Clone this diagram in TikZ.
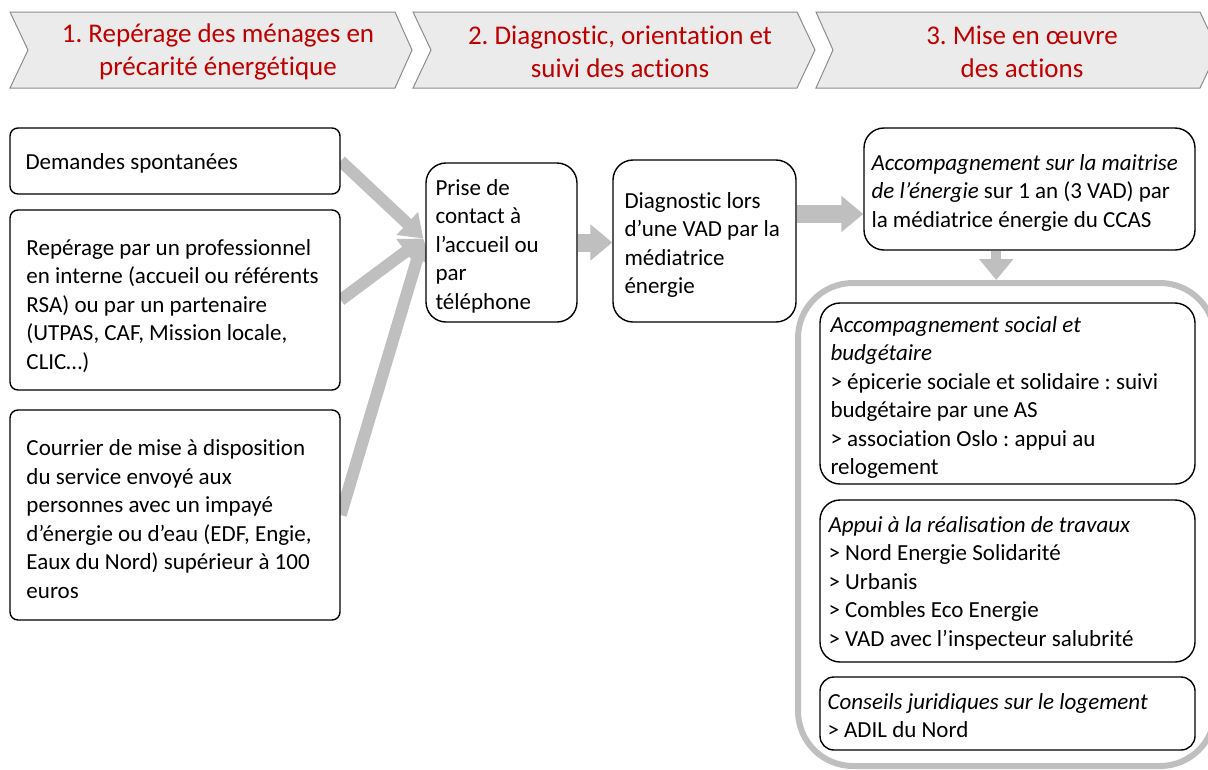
\documentclass[tikz,border=0pt]{standalone}
\usepackage{fontspec}
\setmainfont{Carlito}[Ligatures={NoCommon}]
\frenchspacing
\usetikzlibrary{arrows.meta,fit,calc,backgrounds}
\definecolor{hred}{HTML}{C00000}
\definecolor{agrey}{HTML}{BFBFBF}
\definecolor{chfill}{HTML}{EBEBEB}
\definecolor{chline}{HTML}{8C8C8C}
\begin{document}
\begin{tikzpicture}[x=1pt,y=-1pt,
  box/.style={draw=black, line width=1.4pt, fill=white, inner sep=0pt, rounded corners=#1},
  box/.default=8pt,
  txt/.style={anchor=west, align=left, inner sep=0pt, font=\fontsize{23}{28.5}\selectfont},
  head/.style={align=center, inner sep=0pt, text=hred, font=\fontsize{27}{33.5}\selectfont},
  chev/.style={fill=chfill, draw=chline, line width=1pt},
  darrow/.style={draw=agrey, line width=12pt, -{Triangle[width=30pt,length=22pt]}},
  harrow/.style={draw=agrey, line width=18pt, -{Triangle[width=35pt,length=22pt]}},
  varrow/.style={draw=agrey, line width=10pt, -{Triangle[width=33pt,length=21pt]}},
]
\useasboundingbox (0,0) rectangle (1208,769);
\begin{scope}
\clip (0,0) rectangle (1208,769);
% chevrons
\draw[chev] (10,12) -- (395,12) -- (412,50) -- (395,88) -- (10,88) -- (28,50) -- cycle;
\draw[chev] (413,12) -- (797,12) -- (815,50) -- (797,88) -- (413,88) -- (431,50) -- cycle;
\draw[chev] (816,12) -- (1200,12) -- (1218,50) -- (1200,88) -- (816,88) -- (833,50) -- cycle;
\node[head] (h1) at (218,52) {1. Repérage des ménages en\\précarité énergétique};
\node[head] (h2) at (620,52) {2. Diagnostic, orientation et\\suivi des actions};
\node[head] (h3) at (1022,52) {3. Mise en œuvre\\des actions};
% big grey frame
\node[draw=agrey, line width=6pt, rounded corners=55pt, inner sep=0pt, fit={(798,283) (1215,766)}] (G) {};
\end{scope}
% boxes
\node[box, fit={(10,128) (340,194)}] (A) {};
\node[box, fit={(10,210) (340,390)}] (B) {};
\node[box, fit={(10,410) (340,620)}] (C) {};
\node[box=20pt, fit={(426,163) (577,322)}] (P) {};
\node[box=20pt, fit={(613,160) (796,322)}] (D) {};
\node[box=20pt, fit={(864,128) (1195,250)}] (Acc) {};
\node[box=20pt, fit={(820,303) (1195,484)}] (S) {};
\node[box=20pt, fit={(820,500) (1195,662)}] (Ap) {};
\node[box=14pt, fit={(820,677) (1195,750)}] (Co) {};
% texts
\node[txt] (tA) at ([xshift=16pt,yshift=-2.5pt]A.west) {Demandes spontanées};
\node[txt] (tB) at ([xshift=17pt,yshift=-6pt]B.west) {Repérage par un professionnel\\en interne (accueil ou référents\\RSA) ou par un partenaire\\(UTPAS, CAF, Mission locale,\\CLIC…)};
\node[txt] (tC) at ([xshift=17pt,yshift=-4pt]C.west) {Courrier de mise à disposition\\du service envoyé aux\\personnes avec un impayé\\d’énergie ou d’eau (EDF, Engie,\\Eaux du Nord) supérieur à 100\\euros};
\node[txt] (tP) at ([xshift=10pt,yshift=-3.5pt]P.west) {Prise de\\contact à\\l’accueil ou\\par\\téléphone};
\node[txt] (tD) at ([xshift=12pt,yshift=-4pt]D.west) {Diagnostic lors\\d’une VAD par la\\médiatrice\\énergie};
\node[txt] (tAcc) at ([xshift=8pt,yshift=-3.5pt]Acc.west) {\textit{Accompagnement sur la maitrise}\\\textit{de l’énergie} sur 1 an (3 VAD) par\\la médiatrice énergie du CCAS};
\node[txt] (tS) at ([xshift=11pt,yshift=-4pt]S.west) {\textit{Accompagnement social et}\\\textit{budgétaire}\\> épicerie sociale et solidaire : suivi\\budgétaire par une AS\\> association Oslo : appui au\\relogement};
\node[txt] (tAp) at ([xshift=9pt,yshift=-2pt]Ap.west) {\textit{Appui à la réalisation de travaux}\\> Nord Energie Solidarité\\> Urbanis\\> Combles Eco Energie\\> VAD avec l’inspecteur salubrité};
\node[txt] (tCo) at ([xshift=8pt,yshift=-2pt]Co.west) {\textit{Conseils juridiques sur le logement}\\> ADIL du Nord};
% connectors
\coordinate (conv) at ($(P.west)+(-2,-4)$);
\coordinate (dtop) at ($(Acc.south west)!0.40!(Acc.south east)$);
\begin{scope}[on background layer]
\draw[darrow] (A.east) -- (conv);
\draw[darrow] (B.east) -- (conv);
\draw[darrow] (C.east) -- (conv);
\draw[harrow] (P.east) -- (P.east -| D.west);
\draw[harrow] ($(D.east)+(0,-27)$) -- ($(D.east -| Acc.west)+(0,-27)$);
\draw[varrow] (dtop) -- (dtop |- G.north);
\end{scope}
\end{tikzpicture}
\end{document}
